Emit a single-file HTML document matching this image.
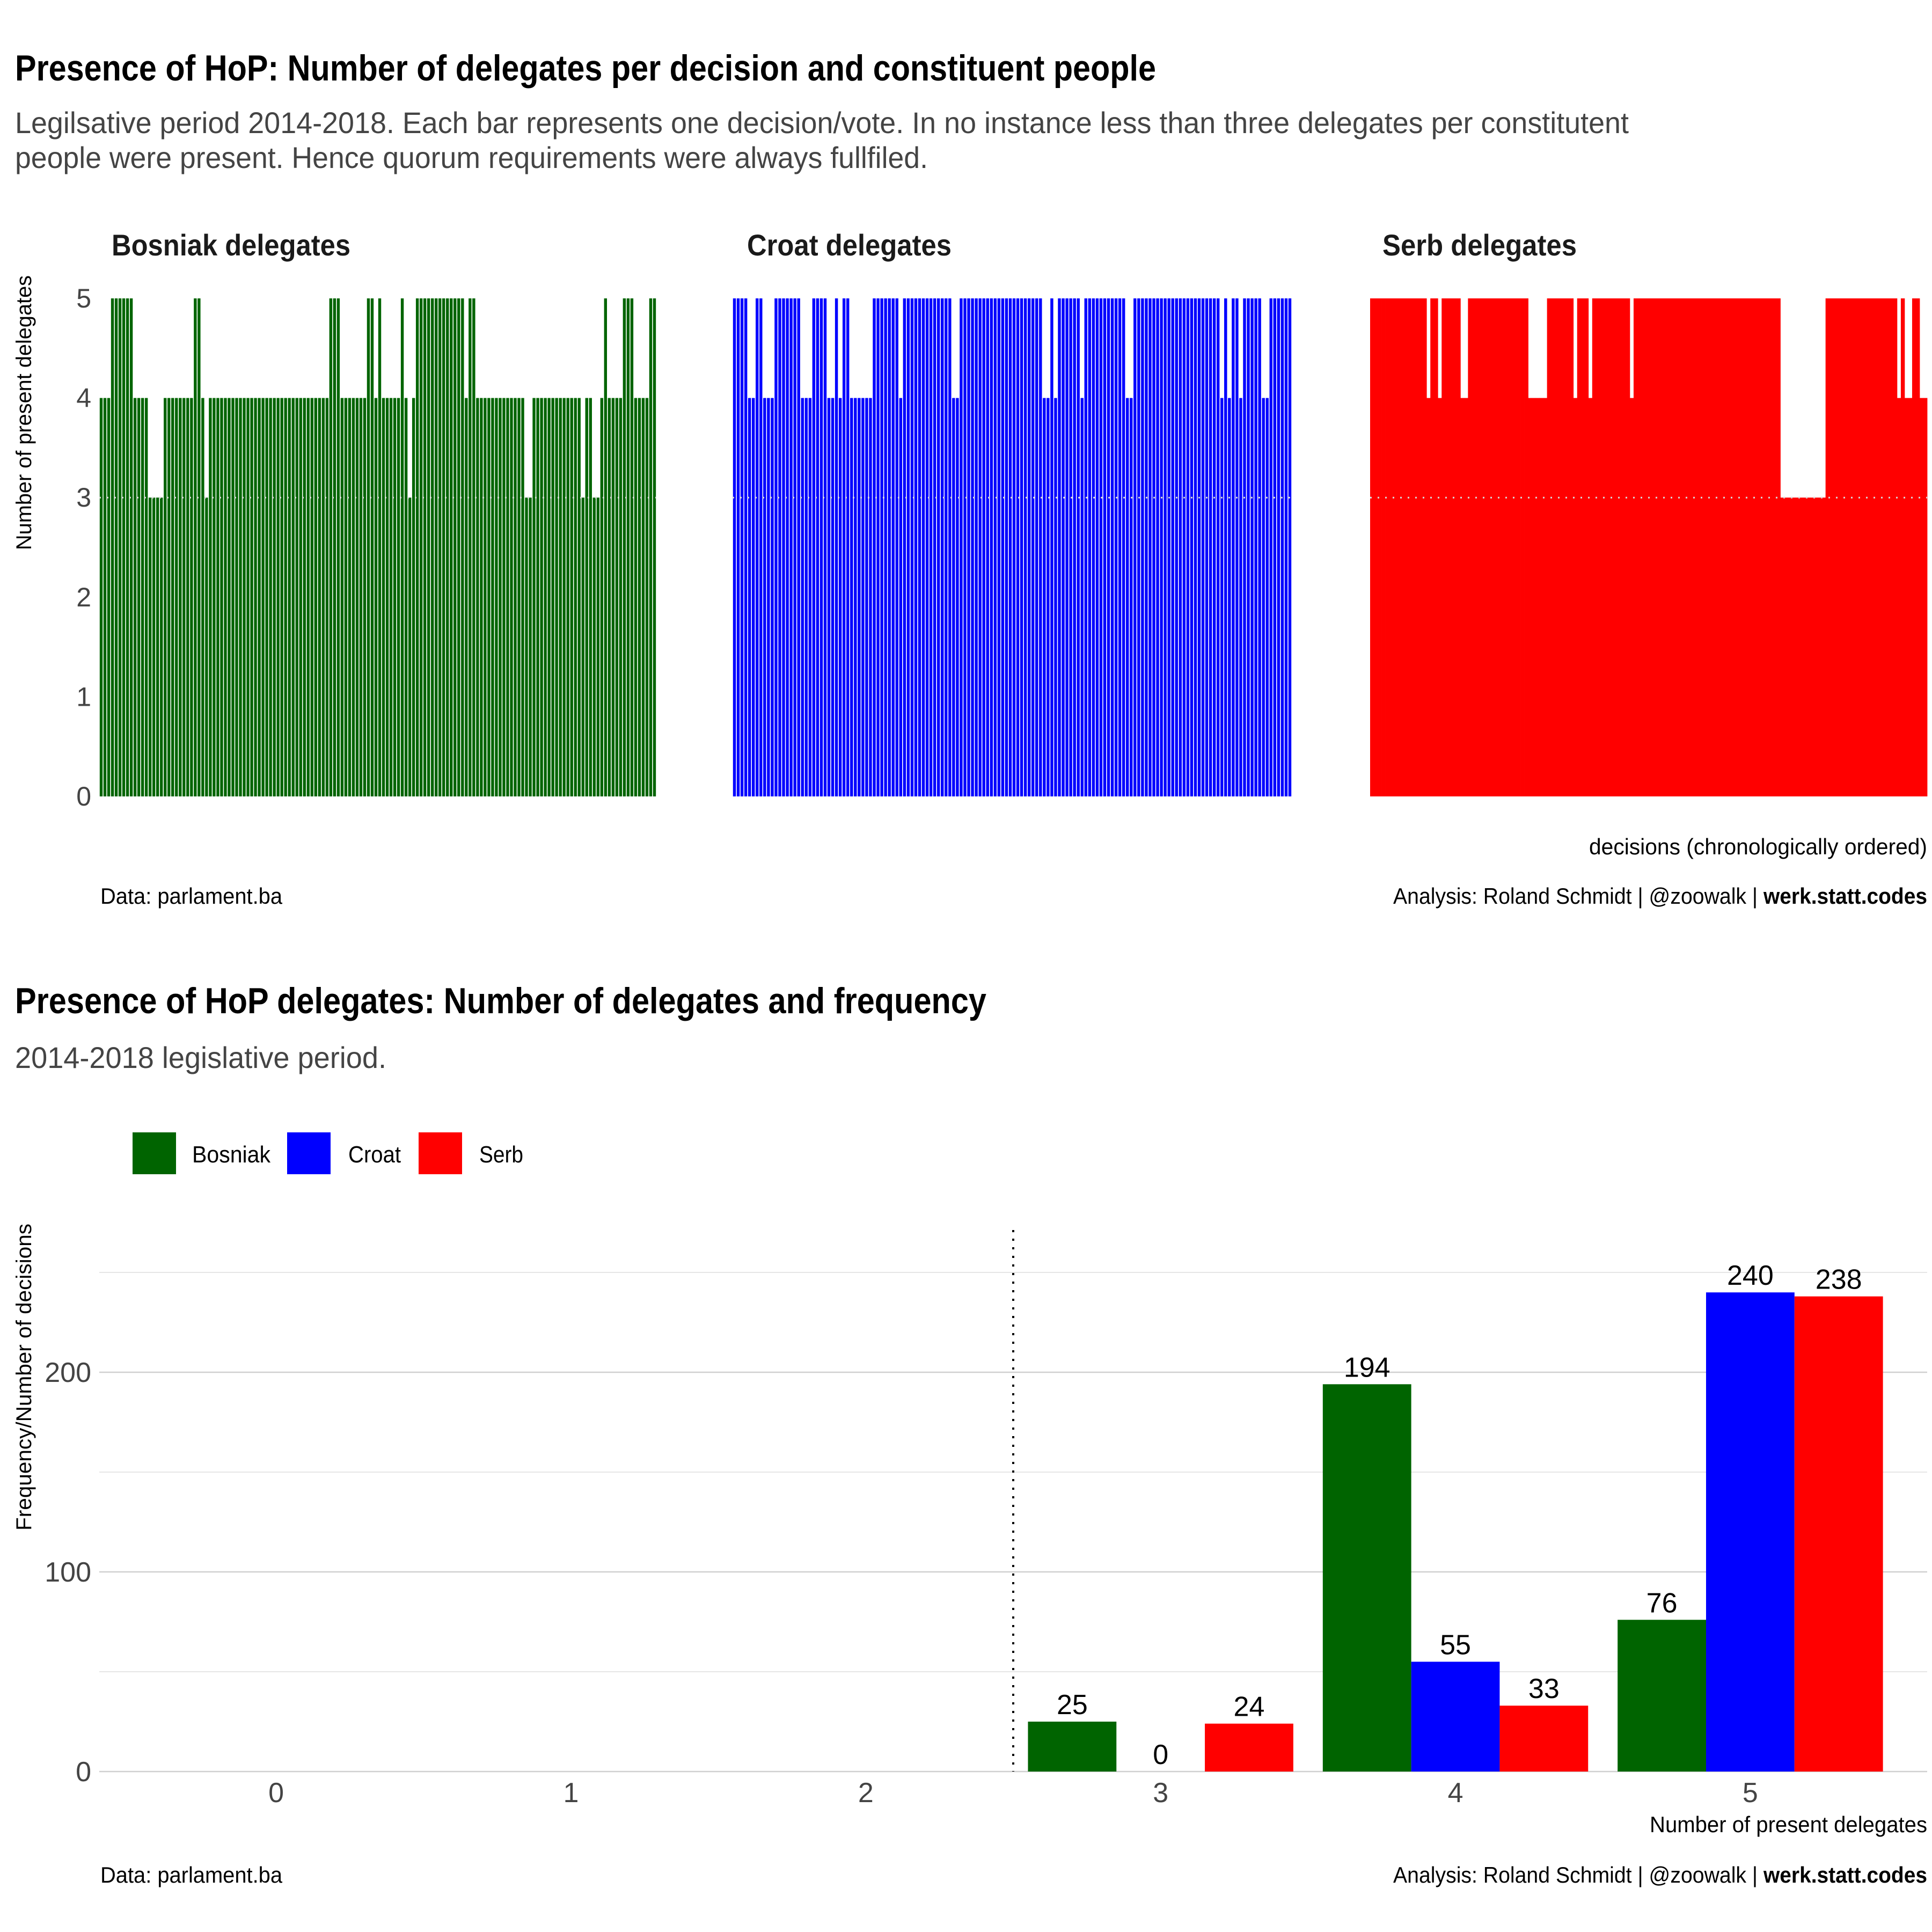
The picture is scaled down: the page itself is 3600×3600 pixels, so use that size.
<!DOCTYPE html>
<html><head><meta charset="utf-8"><style>
html,body{margin:0;padding:0;background:#fff;}
svg{display:block;}
text{font-family:"Liberation Sans Narrow","Liberation Sans",sans-serif;}
</style></head><body>
<svg id="root" xmlns="http://www.w3.org/2000/svg" width="3600" height="3600" viewBox="0 0 3600 3600">
<rect width="3600" height="3600" fill="#fff"/>
<g id="top">
<text x="28" y="150" font-size="68" font-weight="bold" fill="#000" textLength="2126" lengthAdjust="spacingAndGlyphs">Presence of HoP: Number of delegates per decision and constituent people</text>
<text x="28" y="248" font-size="56" fill="#444" textLength="3007" lengthAdjust="spacingAndGlyphs">Legilsative period 2014-2018. Each bar represents one decision/vote. In no instance less than three delegates per constitutent</text>
<text x="28" y="313" font-size="56" fill="#444" textLength="1701" lengthAdjust="spacingAndGlyphs">people were present. Hence quorum requirements were always fullfiled.</text>
<text x="208" y="476" font-size="56" font-weight="bold" fill="#1a1a1a" textLength="445" lengthAdjust="spacingAndGlyphs">Bosniak delegates</text>
<text x="1392" y="476" font-size="56" font-weight="bold" fill="#1a1a1a" textLength="381" lengthAdjust="spacingAndGlyphs">Croat delegates</text>
<text x="2576" y="476" font-size="56" font-weight="bold" fill="#1a1a1a" textLength="362" lengthAdjust="spacingAndGlyphs">Serb delegates</text>
<text transform="translate(58,769) rotate(-90)" text-anchor="middle" font-size="40" fill="#000" textLength="512" lengthAdjust="spacingAndGlyphs">Number of present delegates</text>
<text x="3591" y="1592" text-anchor="end" font-size="42" fill="#000" textLength="630" lengthAdjust="spacingAndGlyphs">decisions (chronologically ordered)</text>
<text x="187" y="1684" font-size="42" fill="#000" textLength="339" lengthAdjust="spacingAndGlyphs">Data: parlament.ba</text>
<text x="3591" y="1684" text-anchor="end" font-size="42" fill="#000"><tspan textLength="690" lengthAdjust="spacingAndGlyphs">Analysis: Roland Schmidt | @zoowalk | </tspan><tspan font-weight="bold" textLength="305" lengthAdjust="spacingAndGlyphs">werk.statt.codes</tspan></text>
<g id="topTicks"></g>
<g id="topBars"></g>
</g>
<g id="bottom">
<text x="28" y="1888" font-size="68" font-weight="bold" fill="#000" textLength="1810" lengthAdjust="spacingAndGlyphs">Presence of HoP delegates: Number of delegates and frequency</text>
<text x="28" y="1990" font-size="56" fill="#444" textLength="692" lengthAdjust="spacingAndGlyphs">2014-2018 legislative period.</text>
<g>
<rect x="247" y="2110" width="81" height="78" fill="#006400"/>
<text x="358" y="2166" font-size="44" fill="#000" textLength="146" lengthAdjust="spacingAndGlyphs">Bosniak</text>
<rect x="535" y="2110" width="81" height="78" fill="#0000ff"/>
<text x="649" y="2166" font-size="44" fill="#000" textLength="98" lengthAdjust="spacingAndGlyphs">Croat</text>
<rect x="780" y="2110" width="81" height="78" fill="#ff0000"/>
<text x="893" y="2166" font-size="44" fill="#000" textLength="82" lengthAdjust="spacingAndGlyphs">Serb</text>
</g>
<text transform="translate(58,2566) rotate(-90)" text-anchor="middle" font-size="40" fill="#000" textLength="572" lengthAdjust="spacingAndGlyphs">Frequency/Number of decisions</text>
<text x="3591" y="3414" text-anchor="end" font-size="42" fill="#000" textLength="517" lengthAdjust="spacingAndGlyphs">Number of present delegates</text>
<text x="187" y="3508" font-size="42" fill="#000" textLength="339" lengthAdjust="spacingAndGlyphs">Data: parlament.ba</text>
<text x="3591" y="3508" text-anchor="end" font-size="42" fill="#000"><tspan textLength="690" lengthAdjust="spacingAndGlyphs">Analysis: Roland Schmidt | @zoowalk | </tspan><tspan font-weight="bold" textLength="305" lengthAdjust="spacingAndGlyphs">werk.statt.codes</tspan></text>
<g id="botGrid"></g>
<g id="botBars"></g>
</g>
</svg>
<script>
// ---- top chart data (one value per decision) ----
const bosniakPresence = [4,4,4,5,5,5,5,5,5,4,4,4,4,3,3,3,3,4,4,4,4,4,4,4,4,5,5,4,3,4,4,4,4,4,4,4,4,4,4,4,4,4,4,4,4,4,4,4,4,4,4,4,4,4,4,4,4,4,4,4,4,5,5,5,4,4,4,4,4,4,4,5,5,4,5,4,4,4,4,4,5,4,3,4,5,5,5,5,5,5,5,5,5,5,5,5,5,4,5,5,4,4,4,4,4,4,4,4,4,4,4,4,4,3,3,4,4,4,4,4,4,4,4,4,4,4,4,4,3,4,4,3,3,4,5,4,4,4,4,5,5,5,4,4,4,4,5,5];
const croatPresence = [5,5,5,5,4,4,5,5,4,4,4,5,5,5,5,5,5,5,4,4,4,5,5,5,5,4,4,5,4,5,5,4,4,4,4,4,4,5,5,5,5,5,5,5,4,5,5,5,5,5,5,5,5,5,5,5,5,5,4,4,5,5,5,5,5,5,5,5,5,5,5,5,5,5,5,5,5,5,5,5,5,5,4,4,5,4,5,5,5,5,5,5,4,5,5,5,5,5,5,5,5,5,5,5,4,4,5,5,5,5,5,5,5,5,5,5,5,5,5,5,5,5,5,5,5,5,5,5,5,4,5,4,5,5,4,5,5,5,5,5,4,4,5,5,5,5,5,5];
const serbPresence = [5,5,5,5,5,5,5,5,5,5,5,5,5,5,5,4,5,5,4,5,5,5,5,5,4,4,5,5,5,5,5,5,5,5,5,5,5,5,5,5,5,5,4,4,4,4,4,5,5,5,5,5,5,5,4,5,5,5,4,5,5,5,5,5,5,5,5,5,5,4,5,5,5,5,5,5,5,5,5,5,5,5,5,5,5,5,5,5,5,5,5,5,5,5,5,5,5,5,5,5,5,5,5,5,5,5,5,5,5,3,3,3,3,3,3,3,3,3,3,3,3,5,5,5,5,5,5,5,5,5,5,5,5,5,5,5,5,5,5,5,4,5,4,4,5,5,4,4];
const topTickValues = [0,1,2,3,4,5];
const quorumLevel = 3;

// ---- bottom chart data ----
const delegateCounts = [0,1,2,3,4,5];
const bosniakFreq = [null,null,null,25,194,76];
const croatFreq = [null,null,null,0,55,240];
const serbFreq = [null,null,null,24,33,238];
const freqTickValues = [0,100,200];
const freqMinorValues = [50,150,250];
const quorumThreshold = 2.5;

const NS = "http://www.w3.org/2000/svg";
function mk(tag, attrs, parent){
  const e = document.createElementNS(NS, tag);
  for (const k in attrs) e.setAttribute(k, attrs[k]);
  parent.appendChild(e);
  return e;
}

// top axis
const topY0 = 1484, topY5 = 556;
function yTop(v){ return topY0 + (topY5 - topY0) * v / 5; }
const panels = [
  {name:'bosniak', data:bosniakPresence, x0:185, x1:1223, color:'#006400', gap:true},
  {name:'croat', data:croatPresence, x0:1365, x1:2407, color:'#0000ff', gap:true},
  {name:'serb', data:serbPresence, x0:2553, x1:3591, color:'#ff0000', gap:false}
];
const topTicks = document.getElementById('topTicks');
topTickValues.forEach(v => {
  const t = mk('text', {x:170, y:yTop(v)+17, 'text-anchor':'end', 'font-size':50, fill:'#444'}, topTicks);
  
  
  t.textContent = v;
});
const topBars = document.getElementById('topBars');
panels.forEach(p => {
  const g = mk('g', {}, topBars);
  
  
  const n = p.data.length;
  const band = (p.x1 - p.x0) / n;
  p.data.forEach((v, i) => {
    const x = p.x0 + i * band;
    const w = p.gap ? band - 1.6 : band + 0.4;
    const r = mk('rect', {x: x + (p.gap ? 0.8 : 0), y: yTop(v), width: w, height: topY0 - yTop(v), fill: p.color}, g);
    
    
  });
  const l = mk('line', {x1:p.x0, x2:p.x1, y1:yTop(quorumLevel), y2:yTop(quorumLevel), stroke:'#d9d9d9', 'stroke-width':3, 'stroke-dasharray':'3,11'}, g);
  
  
});

// bottom axes
const bx0 = 185, bx1 = 3591;
const catStep = (bx1 - bx0) / 6.2;
function xCat(c){ return bx0 + (c + 0.6) * catStep; }
const by0 = 3301, byPer100 = 372;
function yFreq(v){ return by0 - v * byPer100 / 100; }
const grid = document.getElementById('botGrid');
freqMinorValues.forEach(v => {
  const l = mk('line', {x1:bx0, x2:bx1, y1:yFreq(v), y2:yFreq(v), stroke:'#e6e6e6', 'stroke-width':2}, grid);
  
  
});
freqTickValues.forEach(v => {
  const l = mk('line', {x1:bx0, x2:bx1, y1:yFreq(v), y2:yFreq(v), stroke:'#d0d0d0', 'stroke-width':2.5}, grid);
  
  
  const t = mk('text', {x:170, y:yFreq(v)+18, 'text-anchor':'end', 'font-size':52, fill:'#444'}, grid);
  
  
  t.textContent = v;
});
delegateCounts.forEach(c => {
  const t = mk('text', {x:xCat(c), y:3358, 'text-anchor':'middle', 'font-size':52, fill:'#444'}, grid);
  
  
  t.textContent = c;
});
const bars = document.getElementById('botBars');
const series = [
  {name:'bosniak', data:bosniakFreq, color:'#006400', off:-1},
  {name:'croat', data:croatFreq, color:'#0000ff', off:0},
  {name:'serb', data:serbFreq, color:'#ff0000', off:1}
];
const bw = catStep * 0.3;
series.forEach(s => {
  s.data.forEach((v, i) => {
    if (v === null) return;
    const cx = xCat(delegateCounts[i]) + s.off * bw;
    if (v > 0) {
      const r = mk('rect', {x:cx - bw/2, y:yFreq(v), width:bw, height:by0 - yFreq(v), fill:s.color}, bars);
      
      
    }
    const t = mk('text', {x:cx, y:yFreq(v) - 14, 'text-anchor':'middle', 'font-size':52, fill:'#000', style:'font-family:"Liberation Sans",sans-serif'}, bars);
    
    
    t.textContent = v;
  });
});
const ql = mk('line', {x1:xCat(quorumThreshold), x2:xCat(quorumThreshold), y1:2292, y2:by0, stroke:'#000', 'stroke-width':4, 'stroke-dasharray':'4,12'}, bars);


</script>
</body></html>
